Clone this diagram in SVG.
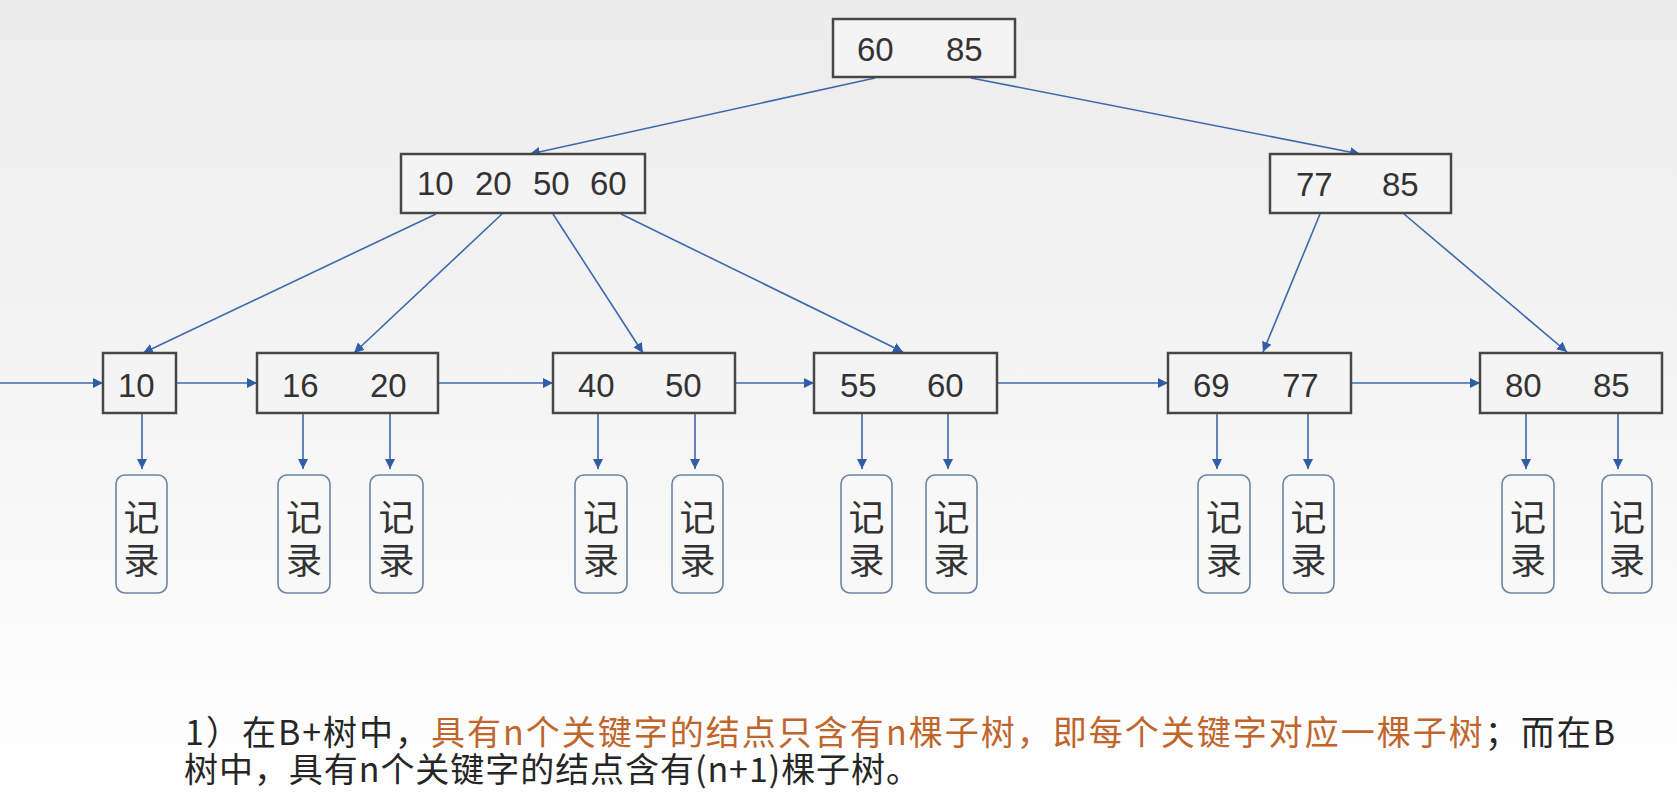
<svg xmlns="http://www.w3.org/2000/svg" width="1677" height="811" viewBox="0 0 1677 811">
<defs>
<linearGradient id="bg" x1="0" y1="0" x2="0" y2="1">
<stop offset="0" stop-color="#ececec"/>
<stop offset="0.55" stop-color="#f6f6f6"/>
<stop offset="1" stop-color="#ffffff"/>
</linearGradient>
<marker id="ah" viewBox="0 0 10 10" refX="10" refY="5" markerWidth="10" markerHeight="10" markerUnits="userSpaceOnUse" orient="auto">
<path d="M0,0 L10,5 L0,10 Z" fill="#2f5da6"/>
</marker>
<style>
.box{fill:#f4f4f4;stroke:#474747;stroke-width:2.5}
.rec{fill:#f8f8f8;stroke:#6c83a6;stroke-width:1.6}
.num{font-family:"Liberation Sans",Arial,sans-serif;font-size:33px;fill:#333333}
.cjk{font-family:"Noto Sans CJK SC",sans-serif;font-size:36px;fill:#333333;text-anchor:middle;writing-mode:vertical-rl;letter-spacing:7px}
.ln{stroke:#3e68ad;stroke-width:1.6;fill:none;marker-end:url(#ah)}
.txt{font-family:"Noto Sans CJK SC",sans-serif;font-size:34px;fill:#262626}
.hl{fill:#c0652b}
</style>
</defs>
<rect width="1677" height="811" fill="url(#bg)"/>

<g id="connectors">
<line class="ln" x1="875" y1="78" x2="530" y2="154"/>
<line class="ln" x1="971" y1="78" x2="1360" y2="154"/>
<line class="ln" x1="436" y1="214" x2="143" y2="353"/>
<line class="ln" x1="502" y1="214" x2="354" y2="353"/>
<line class="ln" x1="553" y1="214" x2="643" y2="353"/>
<line class="ln" x1="621" y1="214" x2="903" y2="352"/>
<line class="ln" x1="1320" y1="214" x2="1263" y2="352"/>
<line class="ln" x1="1404" y1="214" x2="1567" y2="352"/>
<line class="ln" x1="0" y1="383" x2="103" y2="383"/>
<line class="ln" x1="176" y1="383" x2="257" y2="383"/>
<line class="ln" x1="438" y1="383" x2="553" y2="383"/>
<line class="ln" x1="735" y1="383" x2="814" y2="383"/>
<line class="ln" x1="997" y1="383" x2="1168" y2="383"/>
<line class="ln" x1="1351" y1="383" x2="1480" y2="383"/>
<line class="ln" x1="142" y1="413" x2="142" y2="469"/>
<line class="ln" x1="303" y1="413" x2="303" y2="469"/>
<line class="ln" x1="390" y1="413" x2="390" y2="469"/>
<line class="ln" x1="598" y1="413" x2="598" y2="469"/>
<line class="ln" x1="695" y1="413" x2="695" y2="469"/>
<line class="ln" x1="862" y1="413" x2="862" y2="469"/>
<line class="ln" x1="948" y1="413" x2="948" y2="469"/>
<line class="ln" x1="1217" y1="413" x2="1217" y2="469"/>
<line class="ln" x1="1308" y1="413" x2="1308" y2="469"/>
<line class="ln" x1="1526" y1="413" x2="1526" y2="469"/>
<line class="ln" x1="1618" y1="413" x2="1618" y2="469"/>
</g>

<g id="root"><rect class="box" x="833" y="19" width="182" height="58"/><text class="num" x="857" y="61">60</text><text class="num" x="946" y="61">85</text></g>
<g id="n-left"><rect class="box" x="401" y="154" width="244" height="59"/><text class="num" x="417" y="195">10</text><text class="num" x="475" y="195">20</text><text class="num" x="533" y="195">50</text><text class="num" x="590" y="195">60</text></g>
<g id="n-right"><rect class="box" x="1270" y="154" width="181" height="59"/><text class="num" x="1296" y="196">77</text><text class="num" x="1382" y="196">85</text></g>

<g id="leaf1"><rect class="box" x="103" y="353" width="73" height="60"/><text class="num" x="118" y="397">10</text></g>
<g id="leaf2"><rect class="box" x="257" y="353" width="181" height="60"/><text class="num" x="282" y="397">16</text><text class="num" x="370" y="397">20</text></g>
<g id="leaf3"><rect class="box" x="553" y="353" width="182" height="60"/><text class="num" x="578" y="397">40</text><text class="num" x="665" y="397">50</text></g>
<g id="leaf4"><rect class="box" x="814" y="353" width="183" height="60"/><text class="num" x="840" y="397">55</text><text class="num" x="927" y="397">60</text></g>
<g id="leaf5"><rect class="box" x="1168" y="353" width="183" height="60"/><text class="num" x="1193" y="397">69</text><text class="num" x="1282" y="397">77</text></g>
<g id="leaf6"><rect class="box" x="1480" y="353" width="182" height="60"/><text class="num" x="1505" y="397">80</text><text class="num" x="1593" y="397">85</text></g>

<g id="rec1"><rect class="rec" x="116" y="475" width="51" height="118" rx="9"/><text class="cjk" x="141.5" y="542">记录</text></g>
<g id="rec2"><rect class="rec" x="278" y="475" width="52" height="118" rx="9"/><text class="cjk" x="304" y="542">记录</text></g>
<g id="rec3"><rect class="rec" x="370" y="475" width="53" height="118" rx="9"/><text class="cjk" x="396.5" y="542">记录</text></g>
<g id="rec4"><rect class="rec" x="575" y="475" width="52" height="118" rx="9"/><text class="cjk" x="601" y="542">记录</text></g>
<g id="rec5"><rect class="rec" x="672" y="475" width="51" height="118" rx="9"/><text class="cjk" x="697.5" y="542">记录</text></g>
<g id="rec6"><rect class="rec" x="841" y="475" width="51" height="118" rx="9"/><text class="cjk" x="866.5" y="542">记录</text></g>
<g id="rec7"><rect class="rec" x="926" y="475" width="51" height="118" rx="9"/><text class="cjk" x="951.5" y="542">记录</text></g>
<g id="rec8"><rect class="rec" x="1198" y="475" width="52" height="118" rx="9"/><text class="cjk" x="1224" y="542">记录</text></g>
<g id="rec9"><rect class="rec" x="1283" y="475" width="51" height="118" rx="9"/><text class="cjk" x="1308.5" y="542">记录</text></g>
<g id="rec10"><rect class="rec" x="1502" y="475" width="52" height="118" rx="9"/><text class="cjk" x="1528" y="542">记录</text></g>
<g id="rec11"><rect class="rec" x="1602" y="475" width="50" height="118" rx="9"/><text class="cjk" x="1627" y="542">记录</text></g>

<g id="caption">
<text class="txt"><tspan x="185" y="745" textLength="1430" lengthAdjust="spacing">1）在B+树中，<tspan class="hl">具有n个关键字的结点只含有n棵子树，即每个关键字对应一棵子树</tspan>；而在B</tspan><tspan x="184" y="782" textLength="736" lengthAdjust="spacing">树中，具有n个关键字的结点含有(n+1)棵子树。</tspan></text>
</g>
</svg>
